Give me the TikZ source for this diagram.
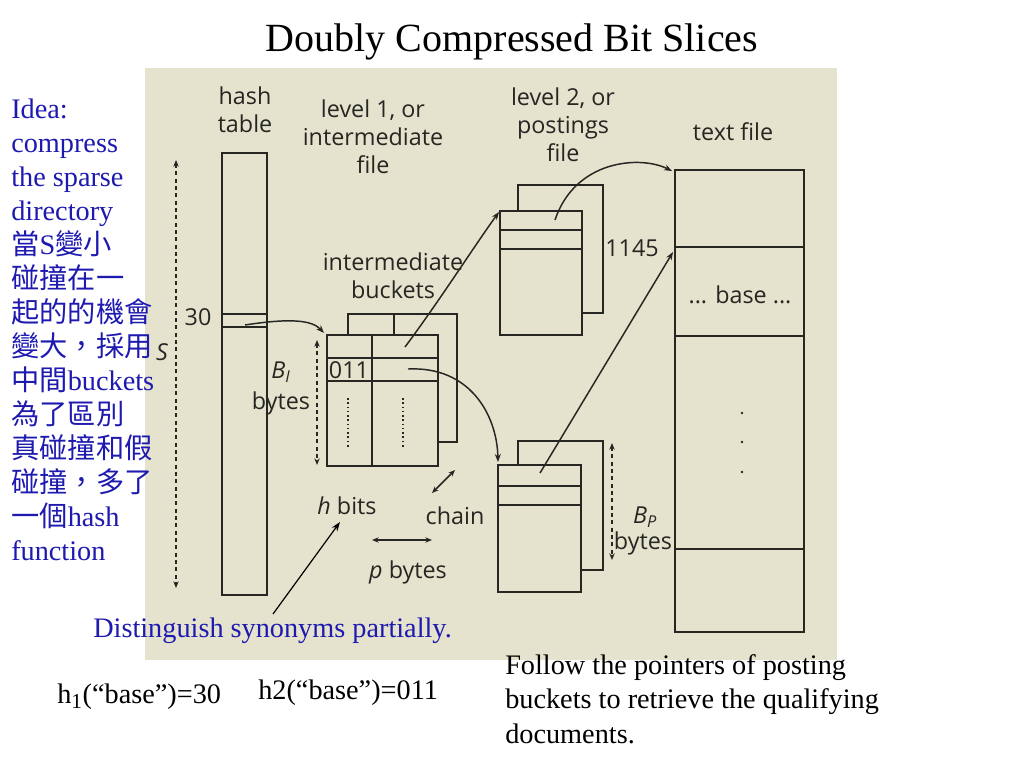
\documentclass[tikz,border=0pt]{standalone}
\usepackage{fontspec}
\setmainfont{Liberation Serif}
\newfontfamily\cjk{Noto Sans CJK TC}
\newfontfamily\figfont{Open Sans}
\usetikzlibrary{arrows.meta,positioning}

\definecolor{scanbg}{RGB}{229,227,205}
\definecolor{ink}{RGB}{38,38,34}
\definecolor{slideblue}{RGB}{30,26,176}

\tikzset{
    pen/.style={draw=ink, line width=1.4pt},
    bucket/.style={pen, fill=scanbg},
    ptr/.style={ink, line width=1.1pt, -{Stealth[length=6pt,width=4.5pt]}},
    dblptr/.style={ink, line width=1.1pt, {Stealth[length=5pt,width=4pt]}-{Stealth[length=5pt,width=4pt]}},
    dimline/.style={ink, line width=1.7pt, dash pattern=on 3pt off 2.5pt,
        {Stealth[length=5pt,width=4pt]}-{Stealth[length=5pt,width=4pt]}},
    figtext/.style={text=ink, font=\figfont\fontsize{17.5}{21}\selectfont, inner sep=0pt},
    figital/.style={figtext, font=\figfont\itshape\fontsize{17.5}{21}\selectfont},
    slidetext/.style={font=\fontsize{21.2}{25.5}\selectfont, inner sep=0pt}
}

\begin{document}
\begin{tikzpicture}[x=0.75pt,y=-0.75pt]

\fill[white] (0,0) rectangle (1024,768);
\useasboundingbox (0,0) rectangle (1024,768);

% Scanned figure
\fill[scanbg] (145,68) rectangle (837,660);

% Title
\node[font=\fontsize{30}{36}\selectfont] (title) at (512,42) {Doubly Compressed Bit Slices};

% Hash table
\draw[pen] (222,153) rectangle (267,595);
\draw[pen] (222,314) -- (267,314) (222,327) -- (267,327);
\node[figtext, align=center] (hashlbl) at (245,110) {hash\\table};
\node[figtext] (slot) at (198,317) {30};

% Size S of the hash table
\draw[dimline] (176,160) -- (176,588);
\node[figital] (slen) at (162,352) {S};

% Level 1: intermediate buckets
\node[figtext, align=center] (lvlone) at (373,137) {level 1, or\\intermediate\\file};
\node[figtext, align=center] (ibuckets) at (393,276) {intermediate\\buckets};
\draw[bucket] (348,314) rectangle (457,442);
\draw[pen] (394,314) -- (394,335);
\draw[bucket] (327,335) rectangle (438,466);
\draw[pen] (327,358) -- (438,358) (327,381) -- (438,381) (372,335) -- (372,466);
\draw[ink, line width=1.2pt, dotted] (348,398) -- (348,448) (403,398) -- (403,448);
\node[figtext] (hashtwo) at (349,370) {011};

% B_I bytes
\draw[dimline] (317,340) -- (317,465);
\node[figital] (bi) at (281,372) {B\textsubscript{I}};
\node[figtext] (bibytes) at (281,403) {bytes};

% Level 2: postings buckets
\node[figtext, align=center] (lvltwo) at (563,125) {level 2, or\\postings\\file};
\draw[bucket] (518,185) rectangle (603,313);
\draw[bucket] (500,211) rectangle (582,335);
\draw[pen] (500,230) -- (582,230) (500,249) -- (582,249);

\draw[bucket] (518,441) rectangle (603,570);
\draw[bucket] (498,465) rectangle (581,592);
\draw[pen] (498,486) -- (581,486) (498,505) -- (581,505);

% B_P bytes
\draw[dimline] (612,443) -- (612,560);
\node[figital] (bp) at (645,517) {B\textsubscript{P}};
\node[figtext] (bpbytes) at (643,543) {bytes};

% Text file
\node[figtext] (txtlbl) at (733,132) {text file};
\draw[pen] (675,170) rectangle (804,632);
\draw[pen] (675,247) -- (804,247) (675,336) -- (804,336) (675,549) -- (804,549);
\node[figtext] (base) at (740,295) {... base ...};
\node[figtext] (offset) at (632,248) {1145};
\foreach \y in {413,442,472}
    \fill[ink] (742,\y) circle (1.3);

% Pointers
\coordinate (h30) at (245,325);
\coordinate (ibin) at (324,333);
\coordinate (ibrow) at (405,347);
\coordinate (pbin) at (499,212);
\coordinate (ib011) at (408,369);
\coordinate (pbin2) at (498,462);
\coordinate (pbrow) at (555,220);
\coordinate (tfin) at (672,171);
\coordinate (pbrow2) at (540,473);
\coordinate (tfbase) at (673,252);
\draw[ptr] (h30) .. controls (290,318) and (312,320) .. (ibin);
\draw[ptr] (ibrow) .. controls (440,300) and (475,245) .. (pbin);
\draw[ptr] (ib011) .. controls (470,366) and (497,415) .. (pbin2);
\draw[ptr] (pbrow) .. controls (575,160) and (640,155) .. (tfin);
\draw[ptr] (pbrow2) -- (tfbase);

% h bits, chain, p bytes
\node[figtext] (hbits) at (347,506) {{\itshape h} bits};
\node[figtext] (chain) at (455,516) {chain};
\node[figtext] (pbytes) at (408,572) {{\itshape p} bytes};
\draw[dblptr] (432,493) -- (455,470);
\draw[dblptr] (372,540) -- (432,540);

% Notes on the slide
\node[slidetext, text=slideblue, anchor=north west, align=left] (idea) at (11,99)
    {Idea:\\compress\\the sparse\\directory\\{\cjk 當}S{\cjk 變小}\\{\cjk 碰撞在一}\\{\cjk 起的的機會}\\{\cjk 變大，採用}\\{\cjk 中間}buckets\\{\cjk 為了區別}\\{\cjk 真碰撞和假}\\{\cjk 碰撞，多了}\\{\cjk 一個}hash\\function};
\node[slidetext, text=slideblue, anchor=west] (distinct) at (93,631) {Distinguish synonyms partially.};
\coordinate (annofrom) at (273,614);
\coordinate (hbitsarr) at (340,522);
\draw[line width=0.9pt, -{Stealth[length=7pt,width=5pt]}] (annofrom) -- (hbitsarr);

\node[slidetext, anchor=west] (hone) at (57,697)
    {h\raisebox{-0.35ex}{\fontsize{16}{16}\selectfont 1}\kern0.5pt(“base”)=30};
\node[slidetext, anchor=west] (htwo) at (258,693) {h2(“base”)=011};
\node[slidetext, anchor=north west, align=left, font=\fontsize{21.2}{26}\selectfont] (follow) at (505,654)
    {Follow the pointers of posting\\buckets to retrieve the qualifying\\documents.};

\end{tikzpicture}
\end{document}
